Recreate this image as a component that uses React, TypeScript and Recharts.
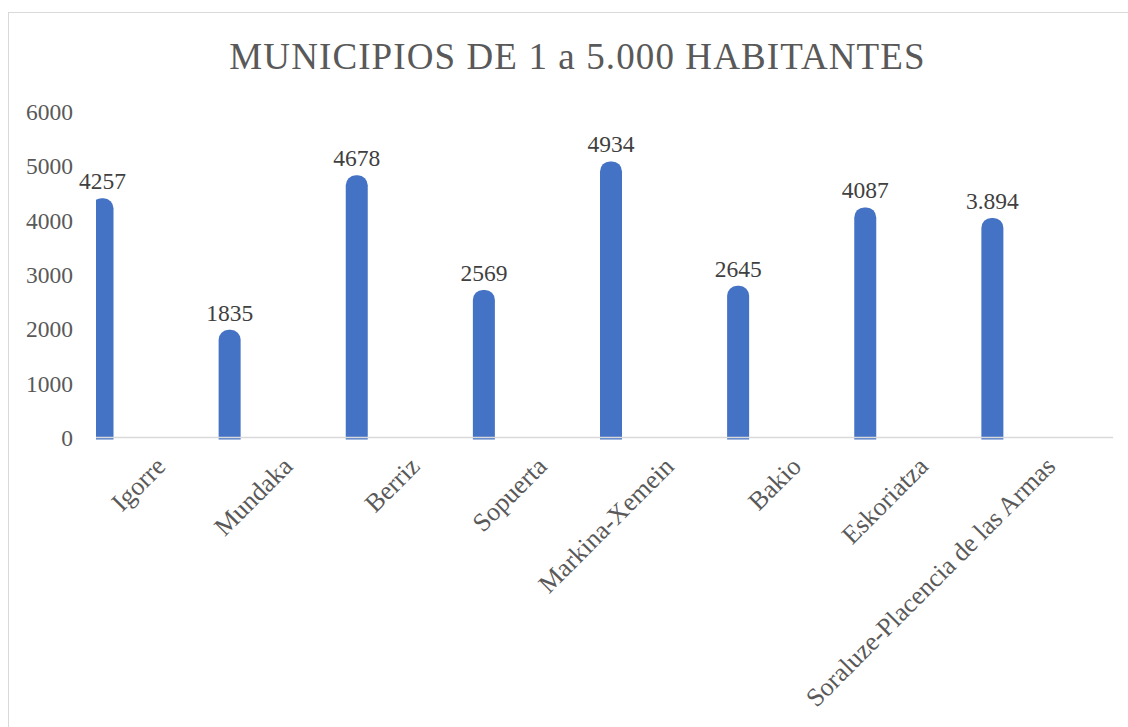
import * as RC from "recharts";
import { BarChart, Bar, XAxis, YAxis, LabelList } from "recharts";

const municipios = [
  "Igorre",
  "Mundaka",
  "Berriz",
  "Sopuerta",
  "Markina-Xemein",
  "Bakio",
  "Eskoriatza",
  "Soraluze-Placencia de las Armas",
];
const habitantes = [4257, 1835, 4678, 2569, 4934, 2645, 4087, 3894];
const etiquetas = ["4257", "1835", "4678", "2569", "4934", "2645", "4087", "3.894"];
const yTicks = [0, 1000, 2000, 3000, 4000, 5000, 6000];

const data = municipios.map((name, i) => ({
  name,
  value: habitantes[i],
  label: etiquetas[i],
}));

const FONT = '"Liberation Serif", "DejaVu Serif", serif';
const BLUE = "#4472C4";

const rc = RC as any;
// left edge of the plot area, from whichever hook this recharts build has
function usePlotLeft(): number | undefined {
  if (rc.usePlotArea) return rc.usePlotArea()?.x;
  if (rc.useOffset) return rc.useOffset()?.left;
  return undefined;
}

// excel-style bar: rounded cap sitting on top of the value, a hair below the axis
function CapBar(props: any) {
  const { x, y, width, height, index } = props;
  const plotLeft = usePlotLeft();
  if (width == null || height == null) return null;
  const r = width / 2 - 1;
  const top = y - 8;
  const bottom = y + height + 2;
  const d = `M${x},${bottom} L${x},${top + r} A${r},${r} 0 0 1 ${x + r},${top} L${x + width - r},${top} A${r},${r} 0 0 1 ${x + width},${top + r} L${x + width},${bottom} Z`;
  if (plotLeft != null && x < plotLeft) {
    const id = `cap-clip-${index}`;
    return (
      <g>
        <defs>
          <clipPath id={id}>
            <rect x={plotLeft} y={top - 2} width={x + width - plotLeft + 2} height={bottom - top + 4} />
          </clipPath>
        </defs>
        <path d={d} fill={BLUE} clipPath={`url(#${id})`} />
      </g>
    );
  }
  return <path d={d} fill={BLUE} />;
}

function CategoryTick(props: any) {
  const { x, y, payload } = props;
  const tx = x + 1;
  const ty = y + 22;
  return (
    <text
      x={tx}
      y={ty}
      dy="0.35em"
      textAnchor="end"
      transform={`rotate(-45 ${tx} ${ty})`}
      fill="#595959"
      fontSize={26}
      fontFamily={FONT}
    >
      {payload.value}
    </text>
  );
}

export default function App() {
  return (
    <div
      style={{
        position: "fixed",
        left: 0,
        top: 0,
        width: 1128,
        height: 727,
        overflow: "hidden",
        background: "#fff",
        fontFamily: FONT,
      }}
    >
      <div
        style={{
          position: "absolute",
          left: 8,
          top: 12,
          width: 1200,
          height: 800,
          border: "1px solid #d9d9d9",
        }}
      />
      <div
        style={{
          position: "absolute",
          left: 0,
          top: 38,
          width: 1155,
          textAlign: "center",
          fontSize: 37,
          letterSpacing: 1.1,
          lineHeight: 1,
          color: "#595959",
          whiteSpace: "nowrap",
        }}
      >
        MUNICIPIOS DE 1 a 5.000 HABITANTES
      </div>
      <div style={{ position: "absolute", left: 0, top: 0 }}>
        <BarChart
          width={1128}
          height={727}
          data={data}
          margin={{ top: 111.5, right: 15, bottom: 9.5, left: 0 }}
        >
          <XAxis
            xAxisId="bars"
            dataKey="name"
            hide
            height={0}
            padding={{ left: -57.5, right: 57.5 }}
          />
          <XAxis
            xAxisId="labels"
            dataKey="name"
            hide
            height={0}
            padding={{ left: -57.5, right: 57.5 }}
          />
          <XAxis
            xAxisId="cat"
            dataKey="name"
            interval={0}
            height={280}
            tickLine={false}
            tickSize={0}
            axisLine={{ stroke: "#d9d9d9", strokeWidth: 1.3 }}
            tick={<CategoryTick />}
          />
          <YAxis
            domain={[0, 6000]}
            ticks={yTicks}
            width={96}
            axisLine={false}
            tickLine={false}
            tickMargin={17}
            tick={{ fill: "#595959", fontSize: 23.5, fontFamily: FONT }}
          />
          <Bar
            xAxisId="bars"
            dataKey="value"
            barSize={22}
            shape={<CapBar />}
            isAnimationActive={false}
          />
          <Bar
            xAxisId="labels"
            dataKey="value"
            barSize={22}
            fill="transparent"
            isAnimationActive={false}
          >
            <LabelList
              dataKey="label"
              position="top"
              offset={17}
              fill="#404040"
              fontSize={23.5}
              fontFamily={FONT}
            />
          </Bar>
        </BarChart>
      </div>
    </div>
  );
}
